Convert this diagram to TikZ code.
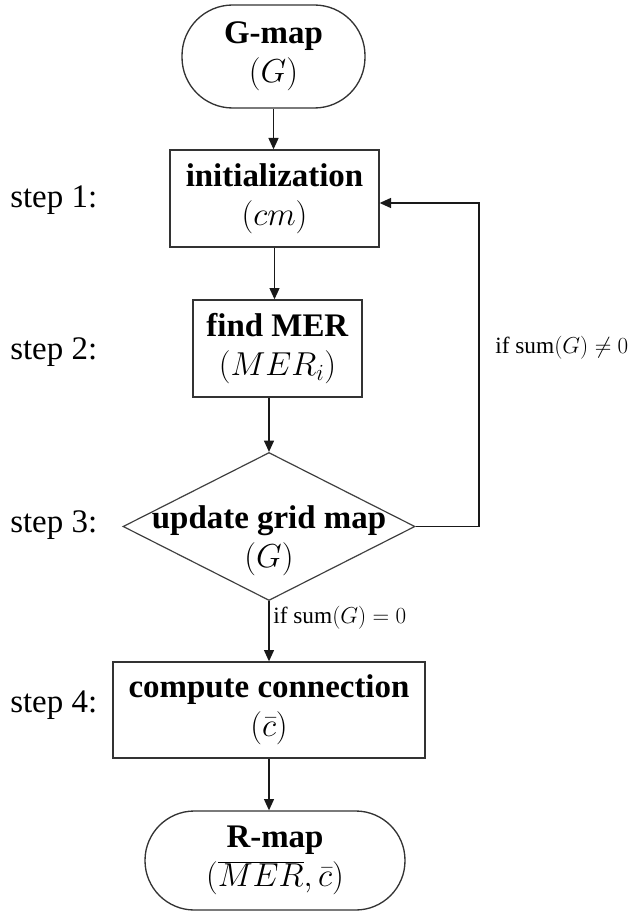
\documentclass[tikz,border=0pt]{standalone}
\usepackage{fontspec}
\setmainfont{Liberation Serif}
\usetikzlibrary{shapes.geometric,arrows.meta}
\newcommand\bigfont{\fontsize{24.7}{29.5}\selectfont}
\newcommand\condfont{\fontsize{17.5}{20}\selectfont}
\begin{document}
\begin{tikzpicture}[x=0.75pt,y=-0.75pt,
  box/.style={draw=black!80, line width=1pt, align=center, font=\bigfont, inner sep=0pt},
  dec/.style={diamond, draw=black!75, line width=0.9pt, inner sep=0pt},
  arr/.style={line width=1pt, black!90, -{Triangle[length=8.5pt,width=7.5pt]}},
  steplbl/.style={font=\bigfont, anchor=base west, inner sep=0pt},
  cond/.style={font=\condfont, anchor=base west, inner sep=0pt}]
\useasboundingbox (0,0) rectangle (636,916);

\node[box, rounded corners=38pt, minimum width=137.25pt, minimum height=77.25pt] (gmap) at (273.5,56.5) {\textbf{G-map}\\$(G)$};
\node[box, minimum width=156.75pt, minimum height=72.75pt] (init) at (274.5,198.5) {\textbf{initialization}\\$(cm)$};
\node[box, minimum width=126.75pt, minimum height=72.75pt] (find) at (277.5,348.5) {\textbf{find MER}\\$(MER_i)$};
\node[dec, minimum width=219pt, minimum height=111pt] (dia) at (269,526.5) {};
\node[font=\bigfont, align=center, inner sep=0pt] (diat) at (269,541) {\textbf{update grid map}\\$(G)$};
\node[box, minimum width=234pt, minimum height=72pt] (comp) at (269,710) {\textbf{compute connection}\\$(\bar{c})$};
\node[box, rounded corners=37pt, minimum width=195pt, minimum height=74.25pt] (rmap) at (275,860.5) {\textbf{R-map}\\$(\overline{MER},\bar{c})$};

\node[steplbl] (s1) at (10,208) {step 1:};
\node[steplbl] (s2) at (10,359) {step 2:};
\node[steplbl] (s3) at (10,532) {step 3:};
\node[steplbl] (s4) at (10,712) {step 4:};

\coordinate (fb) at (479,203);
\draw[arr] (gmap.south) -- (gmap.south |- init.north);
\draw[arr] (init.south) -- (init.south |- find.north);
\draw[arr] (dia.north |- find.south) -- (dia.north);
\draw[arr] (dia.south) -- (comp.north);
\draw[arr] (comp.south) -- (comp.south |- rmap.north);
\draw[arr] (dia.east) -| (fb) -- (fb -| init.east);

\node[cond] (c1) at (495,353) {if $\mathrm{sum}(G)\neq 0$};
\node[cond] (c0) at (273,623) {if $\mathrm{sum}(G)=0$};
\end{tikzpicture}
\end{document}
